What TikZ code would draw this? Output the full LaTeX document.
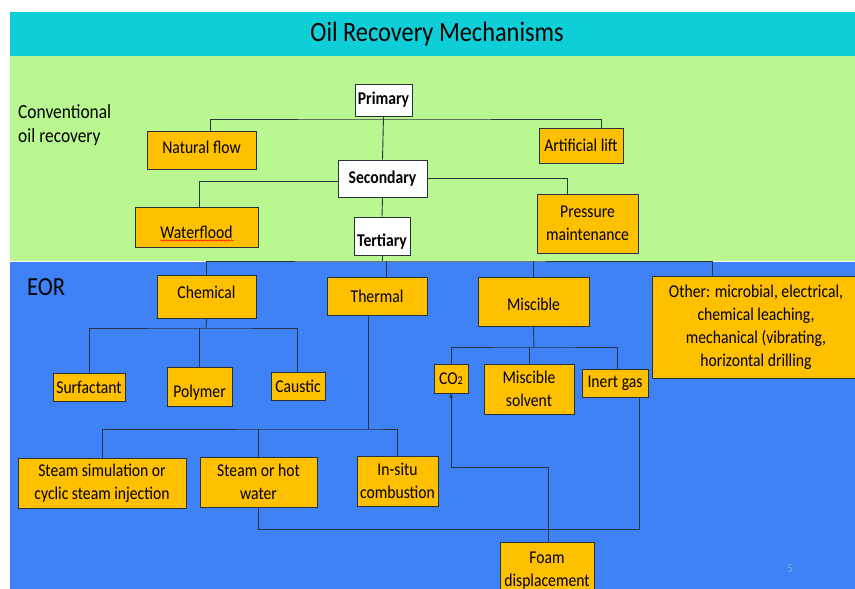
\documentclass[tikz,border=0pt]{standalone}
\usepackage{fontspec}
\setmainfont{Carlito}[FakeStretch=0.87]
\usetikzlibrary{arrows.meta,decorations.pathmorphing}
\definecolor{titlecyan}{RGB}{14,207,216}
\definecolor{convgreen}{RGB}{185,248,145}
\definecolor{eorblue}{RGB}{62,130,246}
\definecolor{boxorange}{RGB}{255,192,0}
\definecolor{connline}{RGB}{42,52,66}
\definecolor{boxline}{RGB}{40,48,60}
\definecolor{pagenum}{RGB}{140,170,220}
\newcommand\bxfont{\fontsize{18}{23}\selectfont}
\begin{document}
\begin{tikzpicture}[x=1pt,y=-1pt,
  box/.style={draw=boxline, line width=0.8pt, fill=boxorange, inner sep=1pt, align=center, font=\bxfont, text=black},
  wbox/.style={box, fill=white, font=\bxfont\bfseries},
  conn/.style={draw=connline, line width=0.9pt},
  arr/.style={conn, -{Stealth[length=5pt,width=4pt]}},
  lbl/.style={inner sep=0pt, text=black}]
\useasboundingbox (0,0) rectangle (855,589);
% backgrounds
\fill[white] (0,0) rectangle (855,589);
\fill[titlecyan] (10,12) rectangle (855,56);
\fill[convgreen] (10,56) rectangle (855,260.5);
\fill[eorblue] (10,262) rectangle (855,589);

% titles
\node[lbl, font=\fontsize{28}{30}\selectfont] (title) at (437,34) {Oil Recovery Mechanisms};
\node[lbl, anchor=west, align=left, font=\fontsize{20}{24}\selectfont] (conv) at (18,125) {Conventional\\oil recovery};
\node[lbl, anchor=west, font=\fontsize{26}{28}\selectfont] (eor) at (27,287) {EOR};
\node[lbl, text=pagenum, font=\fontsize{12}{12}\selectfont] (pnum) at (790,569) {5};

% conventional boxes
\node[wbox, minimum width=57, minimum height=32] (primary) at (383.5,100) {Primary};
\node[box, minimum width=109, minimum height=38] (natural) at (201.5,150) {\raisebox{3pt}[\height][\depth]{Natural flow}};
\node[box, minimum width=84, minimum height=35] (artlift) at (581,145.5) {Artificial lift};
\node[wbox, minimum width=89, minimum height=37] (secondary) at (382.5,178.5) {Secondary};
\node[box, minimum width=123, minimum height=40] (waterflood) at (196.5,227) {\raisebox{-5pt}[\height][\depth]{Waterflood}};
\node[wbox, minimum width=56, minimum height=38] (tertiary) at (382,236) {\raisebox{-6pt}[\height][\depth]{Tertiary}};
\node[box, minimum width=101, minimum height=59] (pressure) at (587.5,223.5) {Pressure\\maintenance};
\draw[red, line width=0.5pt, decorate, decoration={snake, amplitude=0.7pt, segment length=2.6pt}]
  ([xshift=-36,yshift=-13.5]waterflood.center) -- ([xshift=37,yshift=-13.5]waterflood.center);

% EOR boxes
\node[box, minimum width=99, minimum height=43] (chemical) at (206.5,296.5) {\raisebox{4pt}[\height][\depth]{Chemical}};
\node[box, minimum width=100, minimum height=38] (thermal) at (377,296) {Thermal};
\node[box, minimum width=111, minimum height=49] (miscible) at (533.5,301.5) {\raisebox{-3pt}[\height][\depth]{Miscible}};
\node[box, minimum width=208, minimum height=102] (other) at (756,327) {Other: microbial, electrical,\\chemical leaching,\\mechanical (vibrating,\\horizontal drilling};

\node[box, minimum width=72, minimum height=28] (surfactant) at (89,387) {Surfactant};
\node[box, minimum width=65, minimum height=39] (polymer) at (199.5,386.5) {\raisebox{-6pt}[\height][\depth]{Polymer}};
\node[box, minimum width=54, minimum height=28] (caustic) at (298,386) {Caustic};

\node[box, minimum width=34, minimum height=29] (co2) at (451,378.5) {CO\raisebox{-0.5pt}{\fontsize{12}{12}\selectfont 2}};
\node[box, minimum width=90, minimum height=50] (solvent) at (529,389) {Miscible\\solvent};
\node[box, minimum width=66, minimum height=28] (inert) at (615,383) {Inert gas};

\node[box, minimum width=168, minimum height=50] (steamsim) at (102,483) {Steam simulation or\\cyclic steam injection};
\node[box, minimum width=117, minimum height=50] (hotwater) at (258.5,482) {Steam or hot\\water};
\node[box, minimum width=81, minimum height=50] (insitu) at (397.5,481) {In-situ\\combustion};
\node[box, minimum width=94, minimum height=58] (foam) at (547,571) {Foam\\displacement};

% junction coordinates
\coordinate (pbus) at (383.5,119);
\coordinate (ebus) at (382,261);
\coordinate (cbus) at (206,328);
\coordinate (tbus) at (368,429);
\coordinate (mbus) at (534,347);
\coordinate (wb) at (258.5,529);
\coordinate (fj) at (451,467);

% conventional connectors
\draw[conn] (primary.south) -- (secondary.north);
\draw[conn] ([xshift=8.5]natural.north) |- (pbus) -| ([xshift=20]artlift.north);
\draw[conn] ([yshift=-2.5]secondary.west) -| ([xshift=2.5]waterflood.north);
\draw[conn] (secondary.east) -| ([xshift=-20.5]pressure.north);
\draw[conn] (secondary.south) -- (tertiary.north);

% EOR connectors
\draw[conn] (tertiary.south) -- (ebus);
\draw[conn] (chemical.north) |- (ebus) -| ([xshift=-44]other.north);
\draw[conn] ([xshift=9]thermal.north) -- ([xshift=9]thermal.north |- ebus);
\draw[conn] (miscible.north) -- (miscible.north |- ebus);

\draw[conn] (chemical.south) -- (cbus);
\draw[conn] (surfactant.north) |- (cbus) -| ([xshift=-1]caustic.north);
\draw[conn] (polymer.north) -- (polymer.north |- cbus);

\draw[conn] ([xshift=-9]thermal.south) -- (tbus);
\draw[conn] (steamsim.north) |- (tbus) -| (insitu.north);
\draw[conn] (hotwater.north) -- (hotwater.north |- tbus);

\draw[conn] (miscible.south) -- (mbus);
\draw[conn] (co2.north) |- (mbus) -| ([xshift=2]inert.north);
\draw[conn] (solvent.north) -- (solvent.north |- mbus);

\draw[conn] (hotwater.south) -- (wb) -| ([xshift=24]inert.south);
\draw[arr] ([xshift=1]foam.north) |- (fj) -- (co2.south);
\end{tikzpicture}
\end{document}
